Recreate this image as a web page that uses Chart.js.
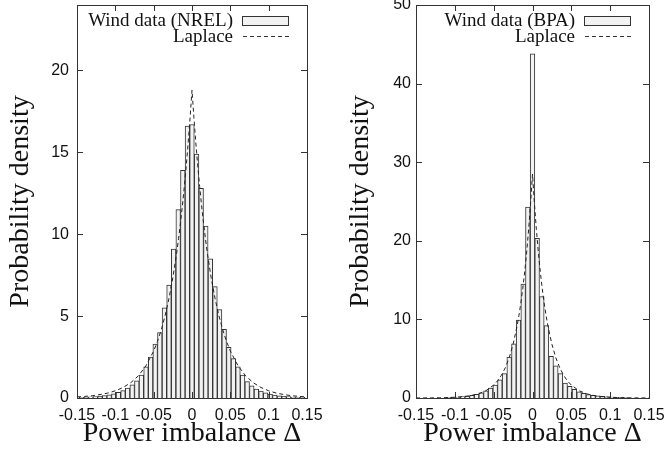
<!DOCTYPE html>
<html lang="en">
<head>
  <meta charset="UTF-8">
  <title>Power imbalance - wind data histograms</title>
  <script src="https://cdn.jsdelivr.net/npm/chart.js"></script>
  <style>
    body { margin: 0; background: #fff; }
    #wrap { position: relative; width: 668px; height: 455px; }
    .panel { position: absolute; top: 0; width: 334px; height: 455px; }
    #left { left: 0; }
    #right { left: 334px; }
  </style>
</head>
<body>
  <div id="wrap">
    <div class="panel" id="left"><canvas id="nrel" width="334" height="455"></canvas></div>
    <div class="panel" id="right"><canvas id="bpa" width="334" height="455"></canvas></div>
  </div>

  <script>
    // histogram bin centres (bin width 0.006)
    const binCenters = [
      -0.144, -0.138, -0.132, -0.126, -0.12, -0.114, -0.108, -0.102, -0.096, -0.09,
      -0.084, -0.078, -0.072, -0.066, -0.06, -0.054, -0.048, -0.042, -0.036, -0.03,
      -0.024, -0.018, -0.012, -0.006, 0, 0.006, 0.012, 0.018, 0.024, 0.03,
      0.036, 0.042, 0.048, 0.054, 0.06, 0.066, 0.072, 0.078, 0.084, 0.09,
      0.096, 0.102, 0.108, 0.114, 0.12, 0.126, 0.132, 0.138, 0.144
    ];

    // measured densities, NREL
    const nrelDensity = [
      0.04, 0.05, 0.07, 0.09, 0.11, 0.15, 0.2, 0.26, 0.35, 0.45,
      0.6, 0.8, 1.05, 1.4, 1.9, 2.5, 3.3, 4.0, 5.5, 6.9,
      9.1, 11.5, 13.9, 16.6, 16.7, 14.9, 12.8, 10.5, 8.5, 6.8,
      5.4, 4.2, 3.1, 2.4, 1.9, 1.4, 1.0, 0.75, 0.55, 0.42,
      0.32, 0.24, 0.18, 0.13, 0.1, 0.08, 0.06, 0.05, 0.04
    ];

    // measured densities, BPA
    const bpaDensity = [
      0, 0, 0, 0, 0, 0, 0.08, 0.1, 0.13, 0.18,
      0.25, 0.35, 0.48, 0.65, 0.9, 1.25, 1.65, 2.3, 3.1, 5.2,
      6.9, 9.9, 14.5, 24.3, 43.8, 20.3, 12.9, 9.2, 5.3, 4.1,
      3.1, 1.9, 1.5, 1.1, 0.8, 0.6, 0.45, 0.35, 0.27, 0.2,
      0.16, 0.12, 0.1, 0.08, 0.06, 0, 0, 0, 0
    ];

    // Laplace fit, sample points
    const lapX = [
      -0.15, -0.14, -0.13, -0.12, -0.11, -0.10, -0.09, -0.08, -0.07, -0.06,
      -0.05, -0.045, -0.04, -0.035, -0.03, -0.025, -0.02, -0.0175, -0.015, -0.0125,
      -0.01, -0.0075, -0.005, -0.0025, 0, 0.0025, 0.005, 0.0075, 0.01, 0.0125,
      0.015, 0.0175, 0.02, 0.025, 0.03, 0.035, 0.04, 0.045, 0.05, 0.06,
      0.07, 0.08, 0.09, 0.10, 0.11, 0.12, 0.13, 0.14, 0.15
    ];
    const nrelLaplace = [
      0.067, 0.097, 0.14, 0.21, 0.30, 0.44, 0.64, 0.93, 1.35, 1.97,
      2.87, 3.46, 4.18, 5.04, 6.09, 7.34, 8.86, 9.74, 10.70, 11.75,
      12.91, 14.18, 15.58, 17.11, 18.8, 17.11, 15.58, 14.18, 12.91, 11.75,
      10.70, 9.74, 8.86, 7.34, 6.09, 5.04, 4.18, 3.46, 2.87, 1.97,
      1.35, 0.93, 0.64, 0.44, 0.30, 0.21, 0.14, 0.097, 0.067
    ];
    const bpaLaplace = [
      0.0054, 0.0095, 0.017, 0.030, 0.053, 0.094, 0.166, 0.295, 0.52, 0.92,
      1.64, 2.18, 2.90, 3.86, 5.13, 6.83, 9.09, 10.48, 12.09, 13.95,
      16.09, 18.57, 21.42, 24.71, 28.5, 24.71, 21.42, 18.57, 16.09, 13.95,
      12.09, 10.48, 9.09, 6.83, 5.13, 3.86, 2.90, 2.18, 1.64, 0.92,
      0.52, 0.295, 0.166, 0.094, 0.053, 0.030, 0.017, 0.0095, 0.0054
    ];

    // tick labels
    const xTicks = [-0.15, -0.1, -0.05, 0, 0.05, 0.1, 0.15];
    const nrelYTicks = [0, 5, 10, 15, 20];
    const bpaYTicks = [0, 10, 20, 30, 40, 50];

    const tickFont = { family: 'Liberation Sans', size: 16 };
    const titleFont = { family: 'Liberation Serif', size: 28 };

    // frame, inside tick marks and the gnuplot-style legend
    const deco = {
      id: 'deco',
      afterDatasetsDraw(chart, args, opts) {
        const { ctx, chartArea: a, scales: { x, y } } = chart;
        ctx.save();
        ctx.strokeStyle = '#333';
        ctx.lineWidth = 1;
        ctx.beginPath();
        x.ticks.forEach(t => {
          const px = Math.round(x.getPixelForValue(t.value)) + 0.5;
          ctx.moveTo(px, a.bottom); ctx.lineTo(px, a.bottom - 6);
          ctx.moveTo(px, a.top); ctx.lineTo(px, a.top + 6);
        });
        y.ticks.forEach(t => {
          const py = Math.round(y.getPixelForValue(t.value)) + 0.5;
          ctx.moveTo(a.left, py); ctx.lineTo(a.left + 6, py);
          ctx.moveTo(a.right, py); ctx.lineTo(a.right - 6, py);
        });
        ctx.stroke();
        ctx.strokeRect(Math.round(a.left) + 0.5, Math.round(a.top) + 0.5,
                       Math.round(a.right - a.left), Math.round(a.bottom - a.top));

        // legend
        ctx.font = '19px "Liberation Serif"';
        ctx.fillStyle = '#111';
        ctx.textAlign = 'right';
        ctx.textBaseline = 'middle';
        ctx.fillText(opts.label, a.right - 74, a.top + 16);
        ctx.fillText('Laplace', a.right - 74, a.top + 32);
        ctx.fillStyle = '#f2f2f2';
        ctx.fillRect(a.right - 64.5, a.top + 11.5, 46, 9);
        ctx.strokeRect(a.right - 64.5, a.top + 11.5, 46, 9);
        ctx.setLineDash([4, 3]);
        ctx.beginPath();
        ctx.moveTo(a.right - 64, a.top + 31.5);
        ctx.lineTo(a.right - 18, a.top + 31.5);
        ctx.stroke();
        ctx.restore();
      }
    };

    function makePanel(id, label, density, laplace, yMax, yTicks, yWidth, yPad, rightPad, yTitlePad) {
      return new Chart(document.getElementById(id), {
        data: {
          datasets: [
            {
              type: 'line',
              label: 'Laplace',
              data: lapX.map((x, i) => ({ x: x, y: laplace[i] })),
              borderColor: '#222',
              borderWidth: 1,
              borderDash: [4, 3],
              pointRadius: 0,
              order: 1
            },
            {
              type: 'bar',
              label: label,
              data: binCenters.map((x, i) => ({ x: x, y: density[i] })),
              backgroundColor: '#f2f2f2',
              borderColor: '#333',
              borderWidth: 1,
              barPercentage: 1,
              categoryPercentage: 1,
              order: 2
            }
          ]
        },
        options: {
          responsive: false,
          animation: false,
          devicePixelRatio: 1,
          layout: { padding: { top: 5, right: rightPad, left: 0, bottom: 0 } },
          plugins: {
            legend: { display: false },
            tooltip: { enabled: false },
            deco: { label: label }
          },
          scales: {
            x: {
              type: 'linear',
              min: -0.15,
              max: 0.15,
              offset: false,
              afterBuildTicks: s => { s.ticks = xTicks.map(v => ({ value: v })); },
              afterFit: s => { s.height = 57; s.paddingLeft = 0; s.paddingRight = 0; },
              grid: { display: false, drawTicks: false },
              border: { display: false },
              ticks: {
                font: tickFont, color: '#111', padding: 8,
                maxRotation: 0, autoSkip: false,
                callback: v => String(v)
              },
              title: {
                display: true, text: 'Power imbalance Δ', font: titleFont,
                color: '#111', padding: { top: 0, bottom: 5 }
              }
            },
            y: {
              type: 'linear',
              min: 0,
              max: yMax,
              afterBuildTicks: s => { s.ticks = yTicks.map(v => ({ value: v })); },
              afterFit: s => { s.width = yWidth; s.paddingTop = 0; s.paddingBottom = 0; },
              grid: { display: false, drawTicks: false },
              border: { display: false },
              ticks: { font: tickFont, color: '#111', padding: yPad },
              title: {
                display: true, text: 'Probability density', font: titleFont,
                color: '#111', padding: { top: yTitlePad, bottom: 0 }
              }
            }
          }
        },
        plugins: [deco]
      });
    }

    makePanel('nrel', 'Wind data (NREL)', nrelDensity, nrelLaplace, 24, nrelYTicks, 77, 8, 27, 4);
    makePanel('bpa', 'Wind data (BPA)', bpaDensity, bpaLaplace, 50, bpaYTicks, 82, 5, 19, 10);
  </script>
</body>
</html>
